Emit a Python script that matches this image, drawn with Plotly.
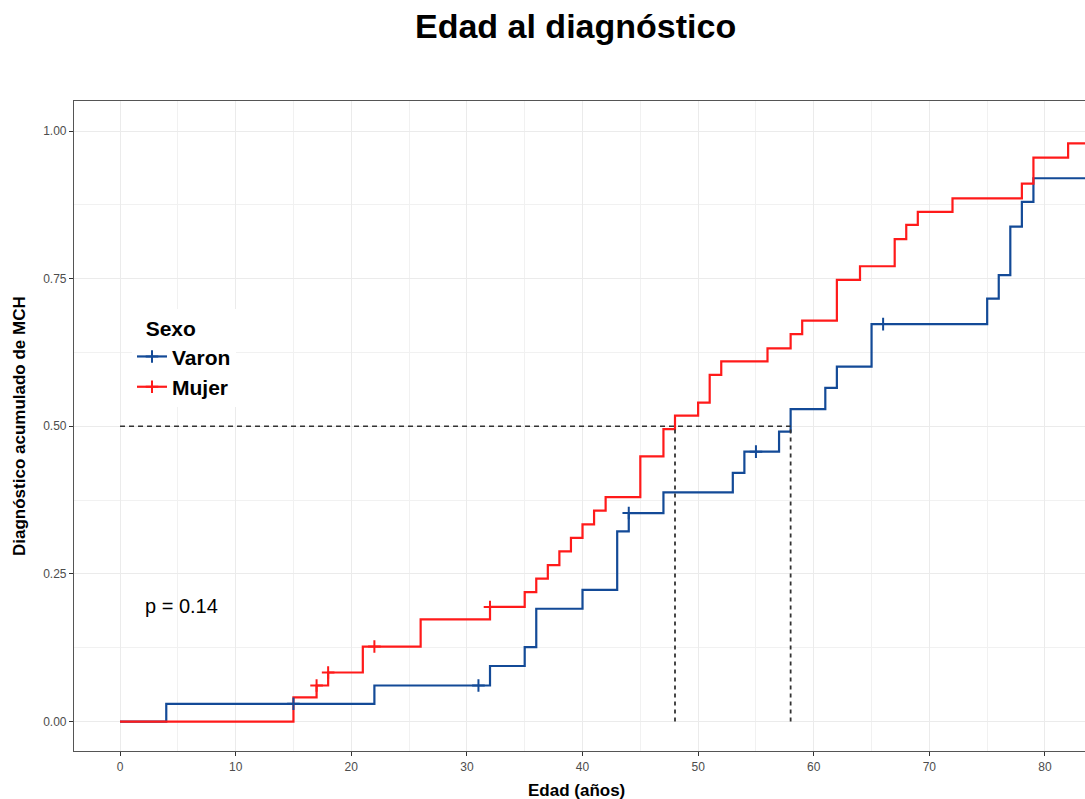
import plotly.graph_objects as go

# Cumulative diagnosis (1 - KM) by sex, step values at each event age
varon_time = [0, 4, 22, 32, 35, 36, 40, 43, 44, 47, 53, 54, 57, 58, 61, 62, 65, 75, 76, 77, 78, 79, 84]
varon_cum = [0, 0.030, 0.061, 0.094, 0.126, 0.191, 0.223, 0.322, 0.353, 0.388,
             0.421, 0.457, 0.491, 0.529, 0.565, 0.601, 0.673, 0.716, 0.756, 0.838,
             0.880, 0.920, 0.920]
varon_censor = [15, 31, 44, 55, 66]

mujer_time = [0, 15, 17, 18, 21, 26, 32, 35, 36, 37, 38, 39, 40, 41, 42, 45, 47, 48, 50, 51,
              52, 56, 58, 59, 62, 64, 67, 68, 69, 72, 78, 79, 82, 84]
mujer_cum = [0, 0.041, 0.061, 0.083, 0.127, 0.173, 0.194, 0.219, 0.242, 0.265,
             0.288, 0.311, 0.334, 0.357, 0.380, 0.449, 0.495, 0.518, 0.540, 0.587,
             0.610, 0.632, 0.656, 0.679, 0.748, 0.771, 0.817, 0.841, 0.863, 0.886,
             0.911, 0.955, 0.979, 0.979]
mujer_censor = [17, 18, 22, 32]

x_ticks = [0, 10, 20, 30, 40, 50, 60, 70, 80]
y_ticks = [0, 0.25, 0.5, 0.75, 1.0]
y_ticklabels = ["0.00", "0.25", "0.50", "0.75", "1.00"]

p_value_text = "p = 0.14"

series = [
    ("Varon", "#134A97", varon_time, varon_cum, varon_censor),
    ("Mujer", "#FF1A1A", mujer_time, mujer_cum, mujer_censor),
]

FONT = "Liberation Sans, Arial, Helvetica, sans-serif"


def step_value(times, values, t):
    v = values[0]
    for ti, vi in zip(times, values):
        if ti <= t:
            v = vi
    return v


def median_time(times, values):
    for ti, vi in zip(times, values):
        if vi >= 0.5:
            return ti
    return None


fig = go.Figure()

# step curves
for name, color, t, c, _ in series:
    fig.add_trace(go.Scatter(
        x=t, y=c, mode="lines", line=dict(color=color, width=2.2, shape="hv"),
        showlegend=False, hoverinfo="skip"))

# censor marks (also carry the legend entries)
for name, color, t, c, cens in series:
    xs, ys = [], []
    for ct in cens:
        xs += [ct, None]
        ys += [step_value(t, c, ct), None]
    fig.add_trace(go.Scatter(
        x=xs, y=ys, mode="lines+markers", name=name, connectgaps=False,
        line=dict(color=color, width=2.2),
        marker=dict(symbol="cross-thin", size=9, color=color,
                    line=dict(color=color, width=2)),
        hoverinfo="skip"))

# median reference lines
medians = [median_time(t, c) for _, _, t, c, _ in series]
fig.add_trace(go.Scatter(x=[0, max(medians)], y=[0.5, 0.5], mode="lines",
                         line=dict(color="#333333", width=1.4, dash="5px,4px"),
                         showlegend=False, hoverinfo="skip"))
for m in medians:
    fig.add_trace(go.Scatter(x=[m, m], y=[0, 0.5], mode="lines",
                             line=dict(color="#333333", width=1.8, dash="4px,4px"),
                             showlegend=False, hoverinfo="skip"))

fig.add_annotation(x=1.99, y=0.196, xref="x", yref="y", text=p_value_text,
                   showarrow=False, xanchor="left", yanchor="middle",
                   font=dict(family=FONT, size=20, color="#000000"))

# titles (paper coords are relative to the plotting area: 74..1085 x 101..751 px)
fig.add_annotation(x=(575 - 74) / 1011, y=1 + (101 - 26) / 650, xref="paper", yref="paper",
                   text="<b>Edad al diagnóstico</b>", showarrow=False,
                   xanchor="center", yanchor="middle",
                   font=dict(family=FONT, size=34, color="#000000"))
fig.add_annotation(x=(576 - 74) / 1011, y=(751 - 790) / 650, xref="paper", yref="paper",
                   text="<b>Edad (años)</b>", showarrow=False,
                   xanchor="center", yanchor="middle",
                   font=dict(family=FONT, size=17, color="#000000"))
fig.add_annotation(x=(19 - 74) / 1011, y=0.5, xref="paper", yref="paper",
                   text="<b>Diagnóstico acumulado de MCH</b>", showarrow=False,
                   textangle=-90, xanchor="center", yanchor="middle",
                   font=dict(family=FONT, size=17, color="#000000"))

fig.update_layout(
    width=1085, height=799,
    margin=dict(l=74, r=0, t=101, b=48),
    paper_bgcolor="white", plot_bgcolor="white",
    font=dict(family=FONT),
    legend=dict(
        title=dict(text="\u00a0\u00a0<b>Sexo</b>",
                   font=dict(family=FONT, size=21, color="#000000")),
        font=dict(family=FONT, size=21, color="#000000", weight="bold"),
        x=(132 - 74) / 1011, y=1 - (309 - 101) / 650,
        xanchor="left", yanchor="top", tracegroupgap=0,
        bgcolor="white", borderwidth=0, traceorder="normal",
    ),
    xaxis=dict(
        range=[-3.98, 83.46], tickvals=x_ticks, ticks="outside", ticklen=4,
        tickcolor="#333333", tickwidth=1,
        tickfont=dict(family=FONT, size=12, color="#4d4d4d"),
        showgrid=True, gridcolor="#EBEBEB", gridwidth=1.2, zeroline=False,
        minor=dict(dtick=5, tick0=0, showgrid=True, gridcolor="#F1F1F1", gridwidth=1),
        showline=True, mirror=True, linecolor="#555555", linewidth=1.2,
    ),
    yaxis=dict(
        range=[-0.0499, 1.0508], tickvals=y_ticks, ticktext=y_ticklabels,
        ticks="outside", ticklen=4, tickcolor="#333333", tickwidth=1,
        tickfont=dict(family=FONT, size=12, color="#4d4d4d"),
        showgrid=True, gridcolor="#EBEBEB", gridwidth=1.2, zeroline=False,
        minor=dict(dtick=0.125, tick0=0, showgrid=True, gridcolor="#F1F1F1", gridwidth=1),
        showline=True, mirror=False, linecolor="#555555", linewidth=1.2,
    ),
)

fig.write_html("out.html")
